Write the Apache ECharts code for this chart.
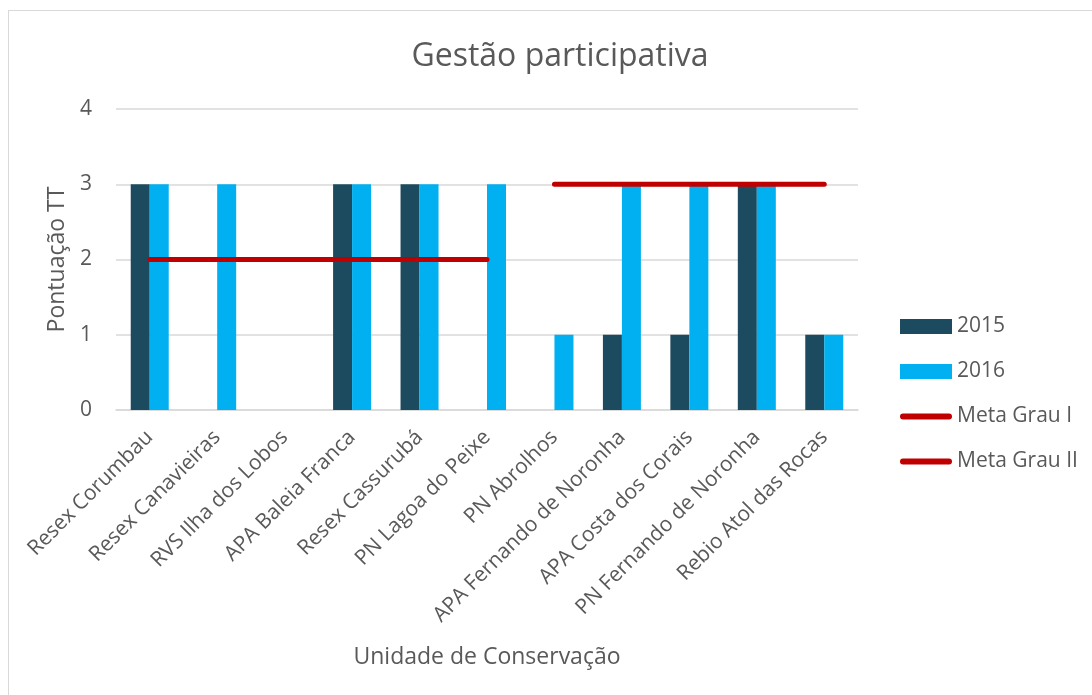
<!DOCTYPE html>
<html>
<head>
<meta charset="utf-8">
<script src="https://cdn.jsdelivr.net/npm/echarts@6/dist/echarts.min.js"></script>
<style>
    html, body { margin: 0; padding: 0; background: #fff; }
    #frame { position: absolute; left: 8px; top: 10px; width: 1100px; height: 700px; border: 1px solid #d9d9d9; }
    #chart { position: absolute; left: 0; top: 0; width: 1092px; height: 695px; }
</style>
</head>
<body>
<div id="frame"></div>
<div id="chart"></div>
<script>
    // categorias (unidades de conservação)
    var unidades = ['Resex Corumbau', 'Resex Canavieiras', 'RVS Ilha dos Lobos', 'APA Baleia Franca',
        'Resex Cassurubá', 'PN Lagoa do Peixe', 'PN Abrolhos', 'APA Fernando de Noronha',
        'APA Costa dos Corais', 'PN Fernando de Noronha', 'Rebio Atol das Rocas'];

    // pontuação por ano
    var pont2015 = [3, 0, 0, 3, 3, 0, 0, 1, 1, 3, 1];
    var pont2016 = [3, 3, 0, 3, 3, 3, 1, 3, 3, 3, 1];

    // metas
    var metaGrauI = [2, 2, 2, 2, 2, 2, '-', '-', '-', '-', '-'];
    var metaGrauII = ['-', '-', '-', '-', '-', '-', 3, 3, 3, 3, 3];

    var yTicks = [0, 1, 2, 3, 4];

    var txt = '#595959',
        font = 'Open Sans',
        red = '#c00000';

    // ícone da legenda para as metas (linha grossa com pontas arredondadas)
    var lineIcon = 'path://M3,0 L49,0 A3,3 0 0 1 49,6 L3,6 A3,3 0 0 1 3,0 Z';

    var myChart = echarts.init(document.getElementById('chart'));

    var option = {
        animation: false,
        textStyle: { fontFamily: font },
        title: {
            text: 'Gestão participativa',
            left: 555,
            top: 36,
            textAlign: 'center',
            textStyle: { fontFamily: font, fontSize: 32, fontWeight: 'normal', color: txt }
        },
        grid: {
            left: 116,
            right: 234,
            top: 109,
            bottom: 285
        },
        legend: {
            orient: 'vertical',
            left: 895,
            top: 311,
            itemWidth: 52,
            itemHeight: 15,
            itemGap: 24,
            textStyle: { fontSize: 21, color: txt, fontFamily: font },
            data: [
                { name: '2015', icon: 'rect' },
                { name: '2016', icon: 'rect' },
                { name: 'Meta Grau I', icon: lineIcon, itemStyle: { color: red } },
                { name: 'Meta Grau II', icon: lineIcon, itemStyle: { color: red } }
            ]
        },
        xAxis: {
            type: 'category',
            data: unidades,
            name: 'Unidade de Conservação',
            nameLocation: 'middle',
            nameGap: 236,
            nameTextStyle: { fontSize: 23, color: txt, fontFamily: font },
            axisLine: { lineStyle: { color: '#d9d9d9', width: 1.5 } },
            axisTick: { show: false },
            axisLabel: {
                rotate: 45,
                interval: 0,
                fontSize: 21,
                color: txt,
                fontFamily: font,
                margin: 24
            }
        },
        yAxis: {
            type: 'value',
            min: yTicks[0],
            max: yTicks[yTicks.length - 1],
            interval: 1,
            name: 'Pontuação TT',
            nameLocation: 'middle',
            nameGap: 47,
            nameTextStyle: { fontSize: 23, color: txt, fontFamily: font },
            axisLine: { show: false },
            axisTick: { show: false },
            axisLabel: { fontSize: 21, color: txt, fontFamily: font, margin: 24 },
            splitLine: { lineStyle: { color: '#d9d9d9', width: 1.5 } }
        },
        series: [{
            name: '2015',
            type: 'bar',
            data: pont2015,
            barWidth: 19,
            barGap: '0%',
            itemStyle: { color: '#1c4a5e' }
        }, {
            name: '2016',
            type: 'bar',
            data: pont2016,
            barWidth: 19,
            barGap: '0%',
            itemStyle: { color: '#00b0f0' }
        }, {
            name: 'Meta Grau I',
            type: 'line',
            data: metaGrauI,
            symbol: 'none',
            lineStyle: { color: red, width: 5, cap: 'round' },
            itemStyle: { color: red },
            z: 5
        }, {
            name: 'Meta Grau II',
            type: 'line',
            data: metaGrauII,
            symbol: 'none',
            lineStyle: { color: red, width: 5, cap: 'round' },
            itemStyle: { color: red },
            z: 5
        }]
    };

    myChart.setOption(option);
</script>
</body>
</html>
